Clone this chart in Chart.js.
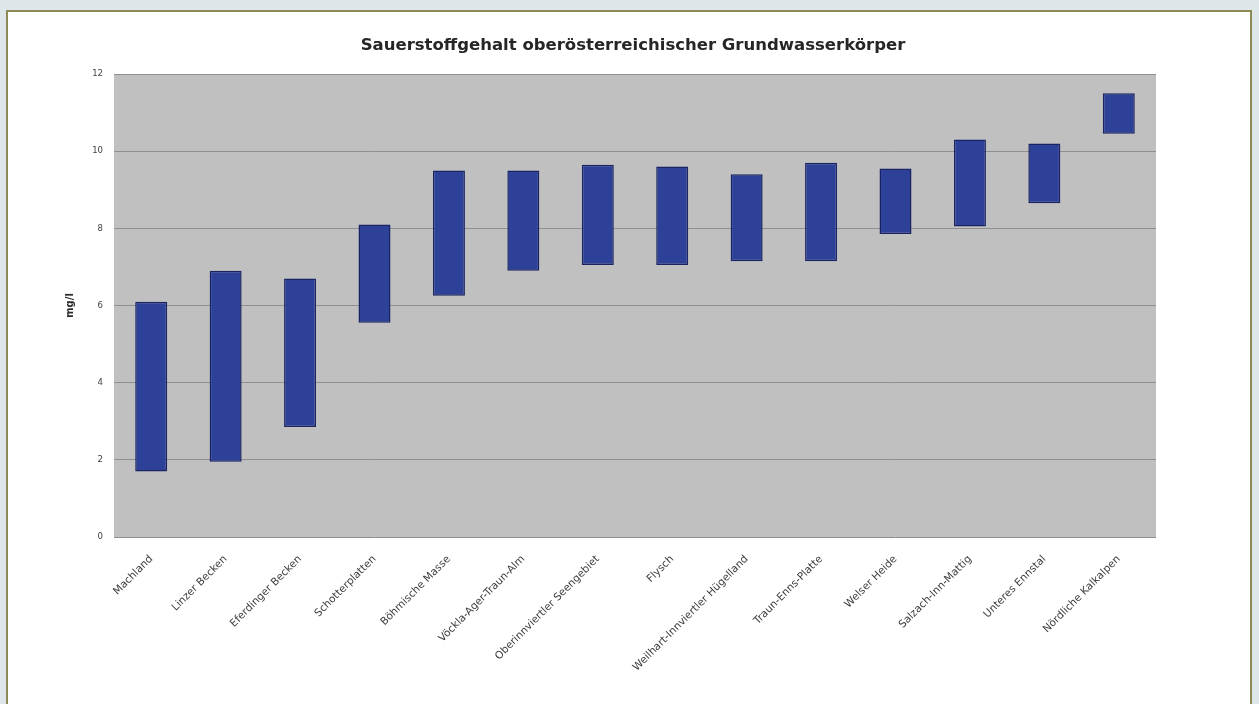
<!DOCTYPE html>
<html>
<head>
<meta charset="utf-8">
<script src="https://cdn.jsdelivr.net/npm/chart.js@4"></script>
<style>
  html, body { margin: 0; padding: 0; background: #dfe6e9; width: 1259px; height: 704px; overflow: hidden; }
  #panel { position: absolute; left: 6px; top: 10px; width: 1246px; height: 700px; background: #ffffff; border: 2px solid #8c8a55; box-sizing: border-box; }
  #wrap { position: absolute; left: 0; top: 0; width: 1259px; height: 704px; }
</style>
</head>
<body>
<div id="panel"></div>
<div id="wrap"><canvas id="c" width="1259" height="704"></canvas></div>
<script>
const categories = [
  "Machland", "Linzer Becken", "Eferdinger Becken", "Schotterplatten",
  "Böhmische Masse", "Vöckla-Ager-Traun-Alm", "Oberinnviertler Seengebiet",
  "Flysch", "Weilhart-Innviertler Hügelland", "Traun-Enns-Platte",
  "Welser Heide", "Salzach-Inn-Mattig", "Unteres Ennstal", "Nördliche Kalkalpen"
];
const minValues = [1.7, 1.95, 2.85, 5.55, 6.25, 6.9, 7.05, 7.05, 7.15, 7.15, 7.85, 8.05, 8.65, 10.45];
const maxValues = [6.1, 6.9, 6.7, 8.1, 9.5, 9.5, 9.65, 9.6, 9.4, 9.7, 9.55, 10.3, 10.2, 11.5];
const yTicks = [0, 2, 4, 6, 8, 10, 12];
const chartTitle = 'Sauerstoffgehalt oberösterreichischer Grundwasserkörper';

const ranges = categories.map((c, i) => [minValues[i], maxValues[i]]);
const FONT = 'DejaVu Sans, Verdana, sans-serif';

const plotBg = {
  id: 'plotBg',
  beforeDraw(chart) {
    const { ctx, chartArea: a } = chart;
    ctx.save();
    ctx.fillStyle = '#c0c0c0';
    ctx.fillRect(a.left, a.top, a.right - a.left, a.bottom - a.top);
    ctx.restore();
  }
};

const titleDraw = {
  id: 'titleDraw',
  afterDraw(chart) {
    const { ctx } = chart;
    ctx.save();
    ctx.font = 'bold 16.5px ' + FONT;
    ctx.fillStyle = '#262626';
    ctx.textAlign = 'center';
    ctx.textBaseline = 'middle';
    ctx.fillText(chartTitle, 633, 46);
    ctx.restore();
  }
};

new Chart(document.getElementById('c'), {
  type: 'bar',
  data: {
    labels: categories,
    datasets: [{
      data: ranges,
      backgroundColor: '#2d4199',
      borderColor: '#1a2463',
      borderWidth: 1.5,
      borderSkipped: false,
      barPercentage: 0.86,
      categoryPercentage: 0.5
    }]
  },
  options: {
    responsive: false,
    animation: false,
    layout: { padding: { left: 64, right: 103, top: 74, bottom: 0 } },
    plugins: {
      legend: { display: false },
      tooltip: { enabled: false },
      title: { display: false }
    },
    scales: {
      x: {
        grid: { display: false, drawTicks: false },
        border: { display: false },
        ticks: {
          color: '#3c3c3c',
          font: { family: FONT, size: 10.5 },
          maxRotation: 45, minRotation: 45, autoSkip: false, padding: 16
        },
        afterFit(s) { s.height = 167; }
      },
      y: {
        min: 0, max: 12,
        afterBuildTicks(s) { s.ticks = yTicks.map(v => ({ value: v })); },
        grid: { color: '#8f8f8f', lineWidth: 1, drawTicks: false },
        border: { display: false },
        ticks: {
          color: '#404040',
          font: { family: FONT, size: 8.5 },
          padding: 11
        },
        title: {
          display: true,
          text: 'mg/l',
          color: '#2a2a2a',
          font: { family: FONT, size: 10, weight: 'bold' },
          padding: 0
        },
        afterFit(s) { s.width = 50; }
      }
    }
  },
  plugins: [plotBg, titleDraw]
});
</script>
</body>
</html>
